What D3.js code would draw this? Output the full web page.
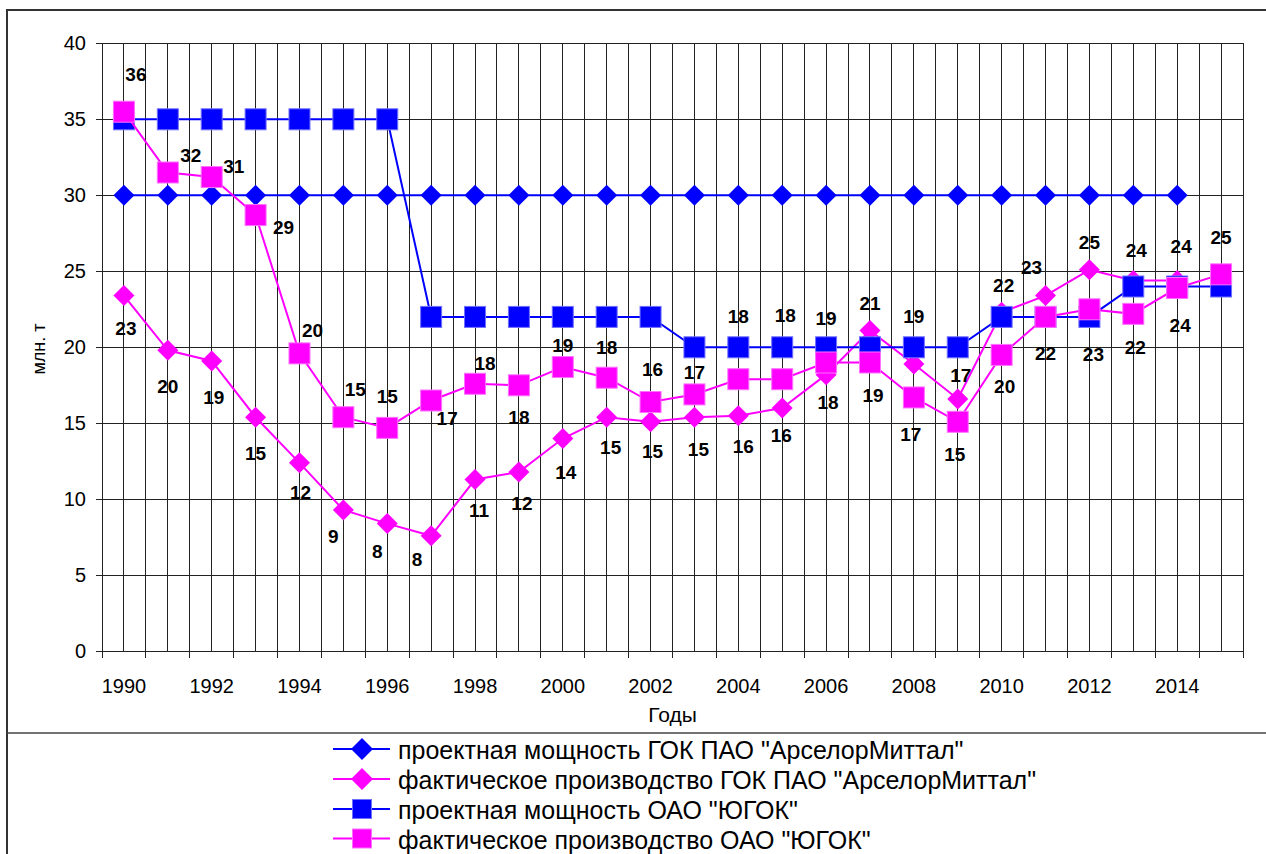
<!DOCTYPE html>
<html><head><meta charset="utf-8">
<script src="https://cdn.jsdelivr.net/npm/d3@7"></script>
<style>
html,body{margin:0;padding:0;background:#fff;}
svg{display:block;font-family:"Liberation Sans",Arial,sans-serif;}
</style></head>
<body><svg id="c" width="1266" height="854"></svg>
<script>
// ---- data ----
const years = d3.range(1990, 2016);
const yearLabels = [1990,1992,1994,1996,1998,2000,2002,2004,2006,2008,2010,2012,2014];
const yTicks = [0,5,10,15,20,25,30,35,40];
const seriesNames = [
  'проектная мощность ГОК ПАО "АрселорМиттал"',
  'фактическое производство ГОК ПАО "АрселорМиттал"',
  'проектная мощность ОАО "ЮГОК"',
  'фактическое производство ОАО "ЮГОК"'
];
// 1990-2014
const capAM = [30,30,30,30,30,30,30,30,30,30,30,30,30,30,30,30,30,30,30,30,30,30,30,30,30];
// 1990-2014
const factAM = [23.4,19.8,19.1,15.4,12.4,9.3,8.4,7.6,11.3,11.8,14.0,15.4,15.1,15.4,15.5,16.0,18.2,21.1,18.9,16.6,22.3,23.4,25.1,24.4,24.4];
// 1990-2015
const capUG = [35,35,35,35,35,35,35,22,22,22,22,22,22,20,20,20,20,20,20,20,22,22,22,24,24,24];
// 1990-2015
const factUG = [35.5,31.5,31.2,28.7,19.6,15.4,14.7,16.5,17.6,17.5,18.7,18.0,16.4,16.9,17.9,17.9,19.0,19.0,16.7,15.1,19.5,22.0,22.5,22.2,23.9,24.8];

// label placement offsets (px from point), styling only
const offAM = [[2,33],[0,36],[2,37],[0,36],[1,30],[-10,27],[-10,28],[-14,24],[4,31],[3,32],[3,34],[4,30],[2,30],[4,32],[5,31],[-1,27],[2,28],[0,-27],[0,-48],[3,-23],[2,-27],[-14,-28],[0,-27],[3,-30],[4,-34]];
const offUG = [[12,-37],[23,-17],[22,-11],[28,12],[13,-23],[12,-28],[0,-31],[16,18],[10,-20],[0,32],[0,-22],[0,-30],[2,-33],[0,-22],[0,-63],[3,-64],[0,-44],[3,33],[-3,37],[-3,33],[3,32],[0,37],[4,45],[2,34],[3,37],[0,-37]];

const BLUE = '#0000ff', PINK = '#ff00ff';
const series = [
  {vals: capAM, color: BLUE, shape: 'diamond', labels: null},
  {vals: factAM, color: PINK, shape: 'diamond', labels: offAM},
  {vals: capUG, color: BLUE, shape: 'square', labels: null},
  {vals: factUG, color: PINK, shape: 'square', labels: offUG}
];

const svg = d3.select('#c');
const L = 102, R = 1243, T = 43.3, B = 651.3;
const x = d3.scaleBand().domain(years).range([L, R]).paddingInner(0).paddingOuter(0);
const y = d3.scaleLinear().domain([0, 40]).range([B, T]);
const cx = yr => x(yr) + x.bandwidth() / 2;

// outer border
svg.append('rect').attr('x', 7).attr('y', 10).attr('width', 1280).attr('height', 900)
  .attr('fill', '#fff').attr('stroke', '#333').attr('stroke-width', 2);

// grid vertical lines (band edges and centers)
const g = svg.append('g').attr('shape-rendering', 'crispEdges');
const vx = [];
years.forEach(yr => { vx.push(x(yr)); vx.push(cx(yr)); });
vx.push(R);
g.selectAll('line.v').data(vx).join('line').attr('class', 'v')
  .attr('x1', d => d).attr('x2', d => d).attr('y1', T).attr('y2', B)
  .attr('stroke', '#222').attr('stroke-width', 1);
g.selectAll('line.h').data(yTicks).join('line').attr('class', 'h')
  .attr('x1', L).attr('x2', R).attr('y1', d => y(d)).attr('y2', d => y(d))
  .attr('stroke', '#222').attr('stroke-width', 1);

// y axis
const yAxis = d3.axisLeft(y).tickValues(yTicks).tickSize(6).tickPadding(10);
const ya = svg.append('g').attr('transform', `translate(${L},0)`).call(yAxis);
ya.select('.domain').attr('stroke', '#222').attr('shape-rendering', 'crispEdges');
ya.selectAll('.tick line').attr('stroke', '#222').attr('shape-rendering', 'crispEdges');
ya.selectAll('.tick text').attr('font-size', 20).attr('font-family', '"Liberation Sans",Arial,sans-serif').attr('fill', '#000');

// x axis
const xa = svg.append('g').attr('transform', `translate(0,${B})`);
xa.append('line').attr('x1', L).attr('x2', R).attr('y1', 0).attr('y2', 0).attr('stroke', '#222').attr('shape-rendering', 'crispEdges');
xa.selectAll('line.t').data(vx.filter((d, i) => i % 2 === 0 || d === R)).join('line').attr('class', 't')
  .attr('x1', d => d).attr('x2', d => d).attr('y1', 0).attr('y2', 7).attr('stroke', '#222').attr('shape-rendering', 'crispEdges');
xa.selectAll('text').data(yearLabels).join('text')
  .attr('x', d => cx(d)).attr('y', 42).attr('text-anchor', 'middle')
  .attr('font-size', 20).attr('fill', '#000').text(d => d);

// axis titles
svg.append('text').attr('x', (L + R) / 2).attr('y', 722).attr('text-anchor', 'middle')
  .attr('font-size', 21).text('Годы');
svg.append('text').attr('transform', 'translate(45,349) rotate(-90)').attr('text-anchor', 'middle')
  .attr('font-size', 18).text('млн. т');

// series
const SQ = 21, DI = 10.5;
function marker(sel, shape, color, size) {
  if (shape === 'square') {
    sel.append('rect').attr('x', -size / 2).attr('y', -size / 2).attr('width', size).attr('height', size)
      .attr('fill', color).attr('stroke', color === BLUE ? '#7070ff' : '#ff70ff').attr('stroke-width', 1);
  } else {
    const s = size / 2;
    sel.append('path').attr('d', `M0,${-s}L${s},0L0,${s}L${-s},0Z`).attr('fill', color);
  }
}
const line = d3.line().x(d => cx(d.yr)).y(d => y(d.v));
series.forEach(s => {
  const pts = s.vals.map((v, i) => ({yr: years[i], v}));
  const sg = svg.append('g');
  sg.append('path').attr('d', line(pts)).attr('fill', 'none').attr('stroke', s.color).attr('stroke-width', 2);
  sg.selectAll('g.m').data(pts).join('g').attr('class', 'm')
    .attr('transform', d => `translate(${cx(d.yr)},${y(d.v)})`)
    .each(function () { marker(d3.select(this), s.shape, s.color, s.shape === 'square' ? SQ : DI * 2); });
});

// data labels on top
const lg = svg.append('g').attr('font-size', 19).attr('font-weight', 'bold').attr('fill', '#000');
series.forEach(s => {
  if (!s.labels) return;
  s.vals.forEach((v, i) => {
    const o = s.labels[i];
    lg.append('text').attr('x', cx(years[i]) + o[0]).attr('y', y(v) + o[1])
      .attr('text-anchor', 'middle').attr('dominant-baseline', 'central').text(Math.round(v));
  });
});

// legend
svg.append('line').attr('x1', 7).attr('x2', 1266).attr('y1', 733).attr('y2', 733)
  .attr('stroke', '#444').attr('stroke-width', 1.5);
const legY = [749, 779, 809, 838.5];
series.forEach((s, i) => {
  const gg = svg.append('g').attr('transform', `translate(0,${legY[i]})`);
  gg.append('line').attr('x1', 333).attr('x2', 390).attr('y1', 0).attr('y2', 0).attr('stroke', s.color).attr('stroke-width', 2);
  const mg = gg.append('g').attr('transform', 'translate(362,0)');
  marker(mg, s.shape, s.color, s.shape === 'square' ? 19 : 22);
  gg.append('text').attr('x', 398).attr('y', 1).attr('dominant-baseline', 'central')
    .attr('font-size', 25).text(seriesNames[i]);
});
</script></body></html>
